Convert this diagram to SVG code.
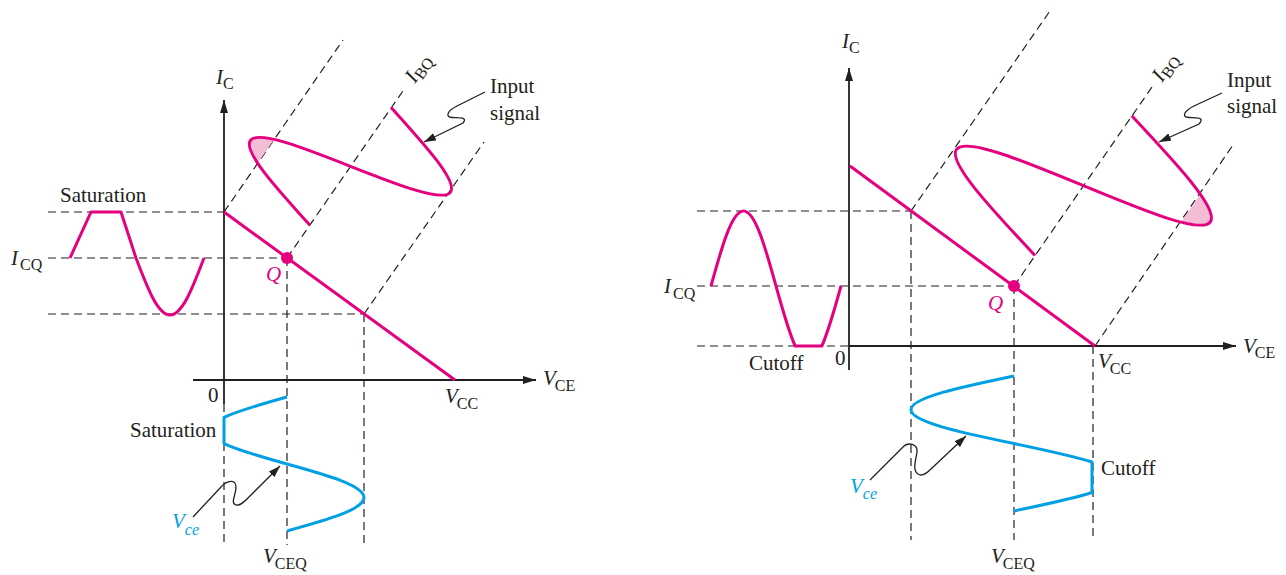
<svg xmlns="http://www.w3.org/2000/svg" width="1286" height="575" viewBox="0 0 1286 575">
<style>
.ax{stroke:#231f20;stroke-width:1.8;fill:none}
.dash{stroke:#231f20;stroke-width:1.2;stroke-dasharray:8 5;fill:none}
.mag{stroke:#e4007f;stroke-width:3;fill:none;stroke-linejoin:round}
.blu{stroke:#00a0e3;stroke-width:3;fill:none;stroke-linejoin:round}
.ptr{stroke:#231f20;stroke-width:1.3;fill:none}
.shade{fill:#f4bcd5}
.dot{fill:#e4007f}
text{font-family:"Liberation Serif","Times New Roman",serif;font-size:21px;fill:#231f20}
.it{font-style:italic}
.sub{font-size:16px;font-style:normal}
.subi{font-size:16px;font-style:italic}
.m{fill:#e4007f}
.b{fill:#00a0e3}
</style>
<defs>
<marker id="ah" markerUnits="userSpaceOnUse" markerWidth="14" markerHeight="8" refX="13" refY="4" orient="auto">
<path d="M0,0 L13,4 L0,8 Z" fill="#231f20"/>
</marker>
<marker id="ah2" markerUnits="userSpaceOnUse" markerWidth="13" markerHeight="8" refX="12" refY="4" orient="auto">
<path d="M0,0 L12,4 L0,8 Z" fill="#231f20"/>
</marker>
<clipPath id="clipL" clipPathUnits="userSpaceOnUse"><rect x="-200" y="-300" width="122" height="400"/></clipPath>
<clipPath id="clipR" clipPathUnits="userSpaceOnUse"><rect x="101" y="-300" width="100" height="400"/></clipPath>
</defs>

<g id="connectors">
<!-- left axes -->
<path class="ax" d="M224,404 V100" marker-end="url(#ah)"/>
<path class="ax" d="M193,380 H536" marker-end="url(#ah)"/>
<!-- left dashed -->
<path class="dash" d="M48,212 H224 M48,258 H287 M48,314 H364"/>
<path class="dash" d="M224,404 V545 M287,258 V545 M364,314 V545"/>
<path class="dash" d="M224,212 L343,40 M287,258 L405,88 M364,314 L484,142"/>
<!-- right axes -->
<path class="ax" d="M849,370 V68" marker-end="url(#ah)"/>
<path class="ax" d="M849,346 H1236" marker-end="url(#ah)"/>
<!-- right dashed -->
<path class="dash" d="M697,211 H911 M697,286 H1014 M697,346 H849"/>
<path class="dash" d="M911,211 V540 M1014,286 V540 M1093,346 V537"/>
<path class="dash" d="M911,211 L1052,8 M1014,286 L1152,87 M1095,346 L1233,145"/>
<!-- pointers -->
<path class="ptr" d="M485,92 L457,106 C447,111 445,117 452,117.5 C460,118 468,117 463,123 L424,142" marker-end="url(#ah2)"/>
<path class="ptr" d="M1222,93 L1194,106 C1184,111 1181,117 1189,117.5 C1197,118 1205,117 1199,124 L1159,142" marker-end="url(#ah2)"/>
<path class="ptr" d="M193,517 L221,487 C227,480 236,479 236,487 C236,495 230,503 236,505 C240,506 244,502 248,498 L280,466" marker-end="url(#ah2)"/>
<path class="ptr" d="M870,480 L902,448 C908,441 918,444 917,452 C916,460 912,470 918,474 C922,477 927,473 931,469 L966,436" marker-end="url(#ah2)"/>
</g>

<g id="left-loadline">
<path class="mag" d="M224,212 L455,380"/>
<circle class="dot" cx="287" cy="258" r="6"/>
<text x="266" y="281" class="it m">Q</text>
</g>

<g id="left-input-signal" transform="translate(287,258) rotate(34.66)">
<path class="shade" clip-path="url(#clipL)" d="M0,-111.5 C-49.69,-99.84 -97,-88.69 -97,-75.75 C-97,-62.81 -49.69,-51.66 0,-40 Z"/>
<path class="mag" d="M0,-183 C49.69,-171.34 97,-160.19 97,-147.25 C97,-134.31 49.69,-123.16 0,-111.5 C-49.69,-99.84 -97,-88.69 -97,-75.75 C-97,-62.81 -49.69,-51.66 0,-40"/>
</g>

<g id="left-ic-output">
<path class="mag" d="M70,258 L91,212 L121,212 L136,258 C147.1,287.2 157.7,315 170,315 C182.3,315 192.9,287.2 204,258"/>
</g>

<g id="left-vce-output">
<path class="blu" d="M287,397 C262.4,403.8 238.1,410.6 224,417.4 L224,443.6 C238.1,450.4 262.4,457.2 287,464 C326.45,474.92 364,485.38 364,497.5 C364,509.62 326.45,520.08 287,531"/>
</g>

<g id="left-labels">
<text x="216" y="84"><tspan class="it">I</tspan><tspan class="sub" dy="5">C</tspan></text>
<text x="543" y="385"><tspan class="it">V</tspan><tspan class="sub" dy="6" dx="-1">CE</tspan></text>
<text x="445" y="403"><tspan class="it">V</tspan><tspan class="sub" dy="6" dx="-1">CC</tspan></text>
<text x="263" y="563"><tspan class="it">V</tspan><tspan class="sub" dy="6" dx="-1">CEQ</tspan></text>
<text x="208" y="402">0</text>
<text x="11" y="265"><tspan class="it">I</tspan><tspan class="sub" dy="5" dx="2">CQ</tspan></text>
<text x="60" y="202">Saturation</text>
<text x="130" y="437">Saturation</text>
<text transform="translate(415,84) rotate(-55.3)"><tspan class="it">I</tspan><tspan class="sub" dy="4">BQ</tspan></text>
<text x="490" y="93">Input</text>
<text x="490" y="120">signal</text>
<text x="172" y="528" class="b"><tspan class="it">V</tspan><tspan class="subi" dy="7">ce</tspan></text>
</g>

<g id="right-loadline">
<path class="mag" d="M850,166 L1095,346"/>
<circle class="dot" cx="1014" cy="286" r="6"/>
<text x="988" y="310" class="it m">Q</text>
</g>

<g id="right-input-signal" transform="translate(1014,286) rotate(34.66)">
<path class="shade" clip-path="url(#clipR)" d="M0,-207 C64.04,-193.14 125,-179.88 125,-164.5 C125,-149.12 64.04,-135.86 0,-122 Z"/>
<path class="mag" d="M0,-207 C64.04,-193.14 125,-179.88 125,-164.5 C125,-149.12 64.04,-135.86 0,-122 C-64.04,-108.14 -125,-94.88 -125,-79.5 C-125,-64.12 -64.04,-50.86 0,-37"/>
</g>

<g id="right-ic-output">
<path class="mag" d="M711,286 C721.6,247.6 731.74,211 743.5,211 C755.26,211 765.4,247.6 776,286 C782.4,309.2 788.8,332.1 795.2,346 L821.8,346 C828.2,332.1 834.6,309.2 841,286"/>
</g>

<g id="right-vce-output">
<path class="blu" d="M1014,376 C961.23,387 911,397.54 911,409.75 C911,421.96 961.23,432.5 1014,443.5 C1043.5,449.65 1072.75,455.8 1092,462 L1092,492.5 C1072.75,498.7 1043.5,504.85 1014,511"/>
</g>

<g id="right-labels">
<text x="842" y="48"><tspan class="it">I</tspan><tspan class="sub" dy="5">C</tspan></text>
<text x="664" y="293"><tspan class="it">I</tspan><tspan class="sub" dy="6" dx="2">CQ</tspan></text>
<text x="835" y="365">0</text>
<text x="749" y="370">Cutoff</text>
<text x="1243" y="353"><tspan class="it">V</tspan><tspan class="sub" dy="5" dx="-1">CE</tspan></text>
<text x="1098" y="368"><tspan class="it">V</tspan><tspan class="sub" dy="6" dx="-1">CC</tspan></text>
<text transform="translate(1162,83) rotate(-55.3)"><tspan class="it">I</tspan><tspan class="sub" dy="4">BQ</tspan></text>
<text x="1227" y="87">Input</text>
<text x="1227" y="113">signal</text>
<text x="1101" y="475">Cutoff</text>
<text x="850" y="493" class="b"><tspan class="it">V</tspan><tspan class="subi" dy="6">ce</tspan></text>
<text x="991" y="563"><tspan class="it">V</tspan><tspan class="sub" dy="6" dx="-1">CEQ</tspan></text>
</g>
</svg>
